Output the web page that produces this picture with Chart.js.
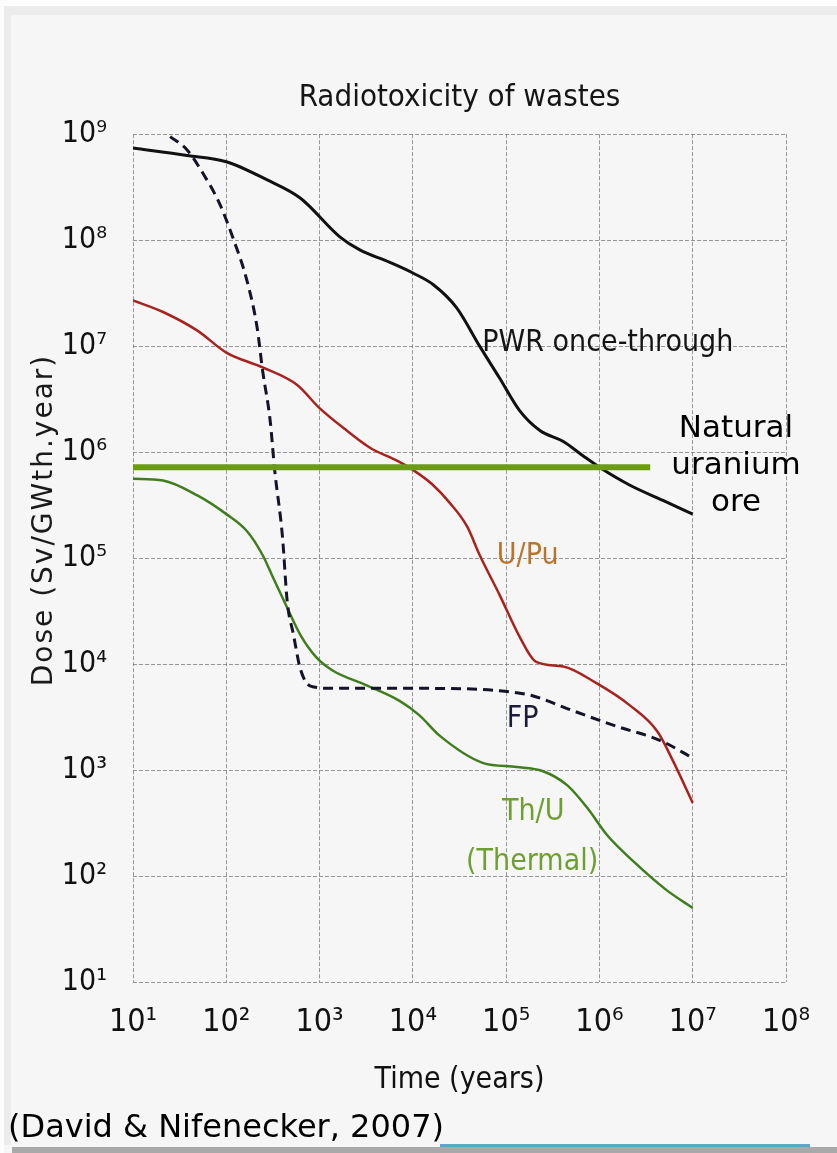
<!DOCTYPE html>
<html>
<head>
<meta charset="utf-8">
<title>Radiotoxicity of wastes</title>
<script src="https://cdn.jsdelivr.net/npm/chart.js@4.4.1/dist/chart.umd.min.js"></script>
<style>
    html, body { margin: 0; padding: 0; background: #f6f6f6; }
    #wrap { position: relative; width: 837px; height: 1153px; overflow: hidden; }
    .strip-top { position: absolute; left: 0; top: 0; width: 837px; height: 6px; background: #fdfdfd; }
    .strip-top2 { position: absolute; left: 4px; top: 6px; width: 833px; height: 9px; background: #ececec; }
    .strip-left { position: absolute; left: 0; top: 6px; width: 4px; height: 1147px; background: #fdfdfd; }
    .strip-left2 { position: absolute; left: 4px; top: 15px; width: 7px; height: 1130px; background: #ececec; }
    .bar-bottom { position: absolute; left: 12px; top: 1147px; width: 825px; height: 6px; background: #a9a9a9; }
    .line-bottom { position: absolute; left: 440px; top: 1144px; width: 370px; height: 3px; background: #5aa9c9; }
    canvas { position: absolute; left: 0; top: 0; }
</style>
</head>
<body>
<div id="wrap">
    <div class="strip-top"></div>
    <div class="strip-top2"></div>
    <div class="strip-left"></div>
    <div class="strip-left2"></div>
    <div class="bar-bottom"></div>
    <div class="line-bottom"></div>
    <canvas id="doseChart" width="837" height="1153"></canvas>
</div>
<script>
// Axis ticks (powers of ten)
const xTickValues = [1e1, 1e2, 1e3, 1e4, 1e5, 1e6, 1e7, 1e8];
const yTickValues = [1e1, 1e2, 1e3, 1e4, 1e5, 1e6, 1e7, 1e8, 1e9];

// PWR once-through (years, Sv/GWth.year)
const pwrTime = [10, 38, 100, 275, 620, 1660, 2700, 5600, 1e4, 1.66e4, 2.95e4, 5.2e4, 8.5e4, 1.4e5, 2.3e5, 4.1e5, 6.6e5, 1e6, 2.1e6, 4.8e6, 1e7];
const pwrDose = [7.4e8, 6.3e8, 5.5e8, 3.7e8, 2.5e8, 1.07e8, 8.1e7, 6.2e7, 4.9e7, 3.8e7, 2.3e7, 1.0e7, 5.0e6, 2.45e6, 1.6e6, 1.26e6, 9.3e5, 7.2e5, 4.9e5, 3.5e5, 2.6e5];

// U/Pu
const upuTime = [10, 21, 49, 100, 245, 575, 1000, 1950, 3470, 6760, 1e4, 1.6e4, 2.5e4, 3.8e4, 5.2e4, 8.5e4, 1.4e5, 2.1e5, 4.1e5, 9.3e5, 2.1e6, 4.2e6, 6.2e6, 1e7];
const upuDose = [2.7e7, 2.1e7, 1.4e7, 8.7e6, 6.3e6, 4.3e6, 2.6e6, 1.6e6, 1.1e6, 8.3e5, 6.8e5, 5.0e5, 3.3e5, 2.0e5, 1.07e5, 4.5e4, 1.8e4, 1.05e4, 9.5e3, 6.6e3, 4.1e3, 2.3e3, 1.2e3, 490];

// Th/U (Thermal)
const thuTime = [10, 21, 49, 100, 166, 245, 316, 450, 620, 930, 1380, 3200, 7200, 1.17e4, 1.95e4, 5.6e4, 1.3e5, 2.45e5, 4.5e5, 7.4e5, 1.2e6, 2.3e6, 5.2e6, 1e7];
const thuDose = [5.6e5, 5.4e5, 3.9e5, 2.6e5, 1.8e5, 1.07e5, 6.6e4, 3.4e4, 1.9e4, 1.15e4, 8.7e3, 6.3e3, 4.5e3, 3.3e3, 2.1e3, 1.17e3, 1.07e3, 980, 720, 440, 245, 138, 74, 50];

// FP (fission products)
const fpTime = [25, 38, 56, 85, 117, 166, 214, 245, 295, 330, 400, 450, 525, 620, 800, 1380, 1.17e4, 8.5e4, 1.95e5, 4.5e5, 1.5e6, 4.5e6, 1e7];
const fpDose = [9.5e8, 7.1e8, 4.3e8, 2.2e8, 1.07e8, 4.2e7, 1.5e7, 5.9e6, 2.0e6, 6.8e5, 1.6e5, 3.9e4, 1.9e4, 9.1e3, 6.2e3, 5.9e3, 5.9e3, 5.6e3, 5.0e3, 3.8e3, 2.6e3, 1.9e3, 1.3e3];

// Natural uranium ore reference level
const oreTime = [10, 3.5e6];
const oreDose = [7.2e5, 7.2e5];

const narrowFont = "'Liberation Sans Narrow', 'DejaVu Sans Condensed', 'Liberation Sans', sans-serif";
const plainFont = "'DejaVu Sans', Verdana, sans-serif";

const superDigits = {1: '\u00b9', 2: '\u00b2', 3: '\u00b3', 4: '\u2074', 5: '\u2075', 6: '\u2076', 7: '\u2077', 8: '\u2078', 9: '\u2079'};

function toPoints(xs, ys) {
    return xs.map((x, i) => ({x: x, y: ys[i]}));
}

function powerLabel(value) {
    const exp = Math.round(Math.log10(value));
    return '10' + superDigits[exp];
}

// Text labels placed in data coordinates
const curveLabels = [
    {text: 'PWR once-through', t: 1.23e6, d: 1.07e7, color: '#151515'},
    {text: 'U/Pu', t: 1.7e5, d: 1.05e5, color: '#b8742c'},
    {text: 'FP', t: 1.5e5, d: 3.0e3, color: '#1b1b3a'},
    {text: 'Th/U', t: 1.95e5, d: 400, color: '#6f9f32'},
    {text: '(Thermal)', t: 1.9e5, d: 135, color: '#6f9f32'}
];

const annotationPlugin = {
    id: 'annotations',
    afterDraw(chart) {
        const ctx = chart.ctx;
        const xs = chart.scales.x;
        const ys = chart.scales.y;
        ctx.save();

        // labels next to the curves
        ctx.font = '30px ' + narrowFont;
        ctx.textAlign = 'center';
        ctx.textBaseline = 'middle';
        curveLabels.forEach(l => {
            ctx.fillStyle = l.color;
            ctx.fillText(l.text, xs.getPixelForValue(l.t), ys.getPixelForValue(l.d));
        });

        // natural uranium ore label
        ctx.fillStyle = '#000';
        ctx.font = '31px ' + plainFont;
        ctx.textBaseline = 'alphabetic';
        ctx.fillText('Natural', 736, 437);
        ctx.fillText('uranium', 736, 474);
        ctx.fillText('ore', 736, 511);

        // y axis title
        ctx.save();
        ctx.translate(45, 520);
        ctx.rotate(-Math.PI / 2);
        ctx.font = '28px ' + plainFont;
        ctx.letterSpacing = '2px';
        ctx.textBaseline = 'middle';
        ctx.fillStyle = '#1a1a1a';
        ctx.fillText('Dose (Sv/GWth.year)', 0, 0);
        ctx.restore();

        // source
        ctx.textAlign = 'left';
        ctx.fillStyle = '#000';
        ctx.font = '32px ' + plainFont;
        ctx.fillText('(David & Nifenecker, 2007)', 8, 1137);
        ctx.restore();
    }
};

const lineBase = {
    pointRadius: 0,
    fill: false,
    cubicInterpolationMode: 'monotone'
};

const gridStyle = {
    color: 'rgba(110, 110, 110, 0.7)',
    lineWidth: 1,
    drawTicks: false
};

new Chart(document.getElementById('doseChart'), {
    type: 'line',
    data: {
        datasets: [
            Object.assign({}, lineBase, {
                label: 'Natural uranium ore',
                data: toPoints(oreTime, oreDose),
                borderColor: '#6b9c0c',
                borderWidth: 6,
                cubicInterpolationMode: 'default',
                tension: 0,
                order: 0
            }),
            Object.assign({}, lineBase, {
                label: 'PWR once-through',
                data: toPoints(pwrTime, pwrDose),
                borderColor: '#111111',
                borderWidth: 3,
                order: 1
            }),
            Object.assign({}, lineBase, {
                label: 'FP',
                data: toPoints(fpTime, fpDose),
                borderColor: '#141428',
                borderWidth: 3,
                borderDash: [10, 6],
                order: 2
            }),
            Object.assign({}, lineBase, {
                label: 'U/Pu',
                data: toPoints(upuTime, upuDose),
                borderColor: '#a8231f',
                borderWidth: 2.5,
                order: 3
            }),
            Object.assign({}, lineBase, {
                label: 'Th/U (Thermal)',
                data: toPoints(thuTime, thuDose),
                borderColor: '#3f7d1e',
                borderWidth: 2.5,
                order: 4
            })
        ]
    },
    options: {
        responsive: false,
        animation: false,
        layout: {
            padding: {top: 0, left: 0, right: 51, bottom: 0}
        },
        plugins: {
            legend: {display: false},
            tooltip: {enabled: false},
            title: {
                display: true,
                text: 'Radiotoxicity of wastes',
                fullSize: false,
                color: '#151515',
                font: {family: narrowFont, size: 31, weight: 'normal'},
                padding: {top: 79, bottom: 18}
            }
        },
        scales: {
            x: {
                type: 'logarithmic',
                min: 1e1,
                max: 1e8,
                afterBuildTicks: scale => {
                    scale.ticks = xTickValues.map(v => ({value: v}));
                },
                afterFit: scale => {
                    scale.height = 171;
                },
                grid: gridStyle,
                border: {display: false, dash: [4, 2]},
                ticks: {
                    autoSkip: false,
                    maxRotation: 0,
                    padding: 21,
                    color: '#111',
                    font: {family: narrowFont, size: 32},
                    callback: value => powerLabel(value)
                },
                title: {
                    display: true,
                    text: 'Time (years)',
                    color: '#111',
                    font: {family: narrowFont, size: 30},
                    padding: {top: 0, bottom: 55}
                }
            },
            y: {
                type: 'logarithmic',
                min: 1e1,
                max: 1e9,
                afterBuildTicks: scale => {
                    scale.ticks = yTickValues.map(v => ({value: v}));
                },
                afterFit: scale => {
                    scale.width = 133;
                },
                grid: gridStyle,
                border: {display: false, dash: [4, 2]},
                ticks: {
                    autoSkip: false,
                    padding: 26,
                    color: '#111',
                    font: {family: narrowFont, size: 30},
                    callback: value => powerLabel(value)
                }
            }
        }
    },
    plugins: [annotationPlugin]
});
</script>
</body>
</html>
